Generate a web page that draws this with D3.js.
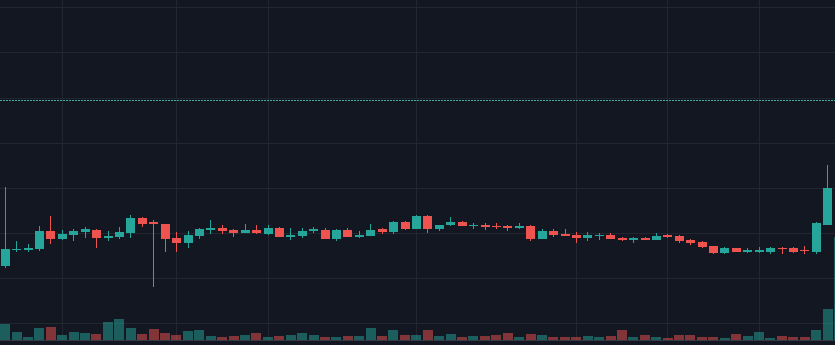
<!DOCTYPE html>
<html>
<head>
<meta charset="utf-8">
<script src="https://cdn.jsdelivr.net/npm/d3@7/dist/d3.min.js"></script>
<style>
  html, body { margin: 0; padding: 0; background: #131722; overflow: hidden; }
</style>
</head>
<body>
<div id="chart"></div>
<script>
// OHLC per bar
const open = [
  91.37, 93.14, 93.14, 93.21, 95.27, 94.35, 94.80, 95.13, 95.38, 94.50,
  94.58, 95.05, 96.68, 96.20, 96.01, 94.46, 93.94, 94.69, 95.35, 95.57,
  95.35, 95.05, 95.35, 94.94, 95.57, 94.61, 94.69, 95.21, 95.35, 94.32,
  95.35, 94.58, 94.72, 95.46, 95.13, 96.24, 95.49, 96.90, 95.49, 95.87,
  96.24, 95.79, 95.90, 95.79, 95.79, 95.61, 95.83, 94.35, 95.27, 94.91,
  94.80, 94.50, 94.65, 94.80, 94.46, 94.28, 94.50, 94.28, 94.80, 94.65,
  94.24, 94.02, 93.55, 92.80, 93.32, 92.95, 92.95, 92.95, 93.39, 93.36,
  93.14, 92.95, 95.94, 100.00
];
const high = [
  100.08, 94.13, 93.80, 95.79, 96.90, 95.32, 95.49, 95.68, 95.40, 95.24,
  95.68, 97.01, 96.79, 96.46, 96.05, 95.13, 95.27, 95.54, 96.46, 95.90,
  95.46, 96.01, 95.90, 95.87, 95.65, 95.57, 95.54, 95.68, 95.54, 95.49,
  95.57, 95.24, 96.01, 95.52, 96.35, 96.29, 96.96, 96.96, 95.90, 96.79,
  96.38, 96.09, 96.16, 96.13, 95.85, 96.16, 95.94, 95.46, 95.46, 95.46,
  95.13, 95.13, 95.02, 95.02, 94.52, 94.52, 94.61, 95.02, 94.94, 94.74,
  94.30, 94.08, 93.58, 93.44, 93.36, 93.32, 93.44, 93.44, 93.41, 93.41,
  93.55, 96.18, 102.55, 104.20
];
const low = [
  91.11, 92.95, 92.92, 93.06, 93.83, 94.24, 94.13, 94.50, 93.36, 94.13,
  94.39, 94.50, 95.72, 89.07, 92.95, 92.95, 93.36, 94.32, 94.91, 94.94,
  94.61, 94.99, 94.91, 94.83, 94.58, 94.24, 94.46, 95.05, 94.35, 94.13,
  94.58, 94.46, 94.69, 94.91, 94.91, 95.35, 95.46, 95.05, 95.27, 95.76,
  95.79, 95.49, 95.38, 95.46, 95.27, 95.49, 94.17, 94.30, 94.61, 94.69,
  93.94, 94.17, 94.28, 94.35, 94.13, 93.94, 94.24, 94.24, 94.46, 93.88,
  93.72, 93.36, 92.69, 92.66, 92.86, 92.84, 92.84, 92.69, 92.69, 92.80,
  92.69, 92.69, 95.90, 99.60
];
const close = [
  93.25, 93.28, 93.39, 95.24, 94.35, 94.91, 95.27, 95.43, 94.50, 94.69,
  95.13, 96.68, 96.05, 95.98, 94.35, 93.94, 94.80, 95.46, 95.61, 95.24,
  95.05, 95.38, 94.99, 95.57, 94.61, 94.80, 95.24, 95.43, 94.39, 95.35,
  94.61, 94.76, 95.38, 95.13, 96.24, 95.49, 96.90, 95.49, 95.87, 96.27,
  95.83, 95.90, 95.68, 95.68, 95.57, 95.83, 94.39, 95.27, 94.80, 94.72,
  94.50, 94.80, 94.76, 94.39, 94.28, 94.46, 94.28, 94.69, 94.58, 94.17,
  93.94, 93.50, 92.80, 93.32, 92.92, 93.14, 93.14, 93.36, 93.25, 92.92,
  93.03, 96.13, 100.00, 103.10
];
const volume = [
  157, 80, 33, 123, 133, 53, 80, 73, 63, 180,
  213, 123, 63, 110, 70, 50, 90, 100, 40, 30,
  40, 50, 73, 30, 40, 53, 73, 53, 30, 30,
  40, 40, 120, 40, 100, 53, 53, 100, 40, 63,
  30, 40, 40, 53, 73, 30, 63, 53, 30, 30,
  30, 40, 30, 40, 100, 30, 53, 30, 20, 53,
  53, 30, 30, 20, 63, 40, 80, 20, 40, 30,
  30, 100, 310, 1027
];
const priceTicks = [85, 90, 95, 100, 105, 110, 115, 120];
const timeGridBars = [5, 15, 23, 36, 50, 58, 66];
const priceLine = 109.75;

const width = 835;
const height = 345;
const upColor = '#26a69a';
const downColor = '#ef5350';

const bars = open.map((o, i) => ({
  i, open: o, high: high[i], low: low[i], close: close[i], volume: volume[i],
  up: close[i] >= o,
}));

const x = d3.scalePoint().domain(d3.range(bars.length)).range([5.3, 839.2]);
const step = x.step();
const y = d3.scaleLinear().domain([85, 120]).range([323.3, 7.3]);
const yVol = d3.scaleLinear().domain([0, 1000]).range([340, 240]);

const svg = d3.select('#chart')
  .append('svg')
  .attr('width', width)
  .attr('height', height)
  .style('display', 'block');

svg.append('rect')
  .attr('width', width)
  .attr('height', height)
  .attr('fill', '#131722');

// Grid
const grid = svg.append('g').attr('stroke', '#22262f').attr('stroke-width', 1);

grid.selectAll('.hgrid')
  .data(priceTicks)
  .enter()
  .append('line')
  .attr('x1', 0)
  .attr('x2', width)
  .attr('y1', (d) => Math.round(y(d)) + 0.5)
  .attr('y2', (d) => Math.round(y(d)) + 0.5);

grid.selectAll('.vgrid')
  .data(timeGridBars)
  .enter()
  .append('line')
  .attr('x1', (d) => Math.floor(x(d)) + 0.5)
  .attr('x2', (d) => Math.floor(x(d)) + 0.5)
  .attr('y1', 0)
  .attr('y2', 340);

// Volume
svg.append('g')
  .attr('shape-rendering', 'crispEdges')
  .selectAll('rect')
  .data(bars)
  .enter()
  .append('rect')
  .attr('x', (d) => Math.round(x(d.i) - (step - 1) / 2))
  .attr('width', Math.round(step - 1))
  .attr('y', (d) => yVol(d.volume))
  .attr('height', (d) => yVol(0) - yVol(d.volume))
  .attr('fill', (d) => (d.up ? upColor : downColor))
  .attr('fill-opacity', 0.5);

// Bottom border
svg.append('line')
  .attr('x1', 0)
  .attr('x2', width)
  .attr('y1', 340.5)
  .attr('y2', 340.5)
  .attr('stroke', '#363a45');

// Price line
svg.append('line')
  .attr('x1', 0)
  .attr('x2', width)
  .attr('y1', Math.round(y(priceLine)) + 0.5)
  .attr('y2', Math.round(y(priceLine)) + 0.5)
  .attr('stroke', '#3fa9a0')
  .attr('stroke-width', 1)
  .attr('stroke-dasharray', '2 1');

// Candles
const candles = svg.append('g')
  .attr('shape-rendering', 'crispEdges')
  .selectAll('g')
  .data(bars)
  .enter()
  .append('g');

candles.append('line')
  .attr('x1', (d) => Math.floor(x(d.i)) + 0.5)
  .attr('x2', (d) => Math.floor(x(d.i)) + 0.5)
  .attr('y1', (d) => y(d.high))
  .attr('y2', (d) => y(d.low))
  .attr('stroke', (d) => (d.up ? upColor : downColor))
  .attr('stroke-width', 1);

candles.append('rect')
  .attr('x', (d) => Math.round(x(d.i) - 4.5))
  .attr('width', 9)
  .attr('y', (d) => y(Math.max(d.open, d.close)))
  .attr('height', (d) => Math.max(1, Math.abs(y(d.open) - y(d.close))))
  .attr('fill', (d) => (d.up ? upColor : downColor));
</script>
</body>
</html>
